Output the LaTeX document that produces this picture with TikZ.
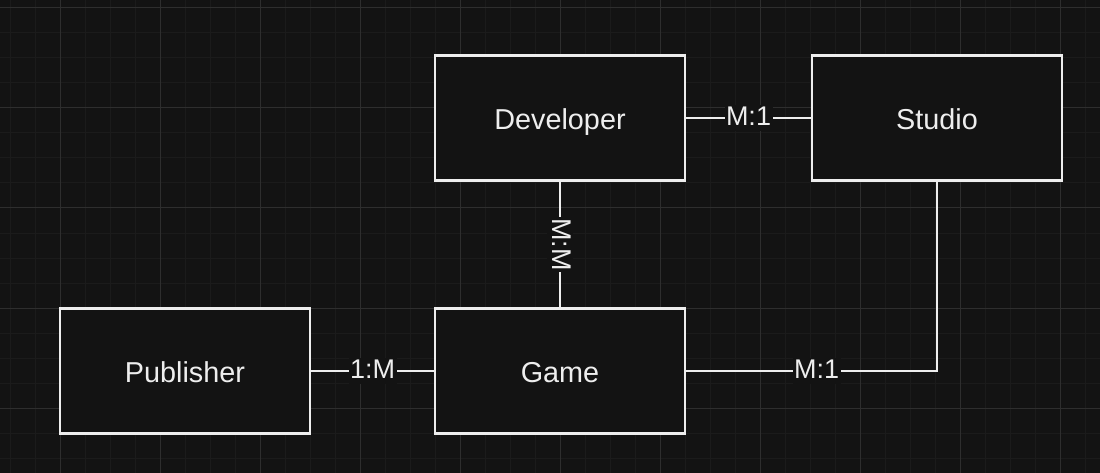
\documentclass[tikz,border=0pt]{standalone}
\usepackage{fontspec}
\setmainfont{Liberation Sans}
\usetikzlibrary{positioning}
\definecolor{canvas}{HTML}{131313}
\definecolor{gridminor}{HTML}{1B1B1B}
\definecolor{gridmajor}{HTML}{2E2E2E}
\definecolor{inkwhite}{HTML}{EEEEEE}

\begin{document}
\begin{tikzpicture}[x=1pt, y=-1pt,
    entity/.style={draw=inkwhite, line width=2.2pt, fill=canvas, text=inkwhite,
        minimum width=250pt, minimum height=125pt, text height=24pt, text depth=1.4pt,
        font=\fontsize{28.8}{34}\selectfont},
    rel/.style={fill=canvas, text=inkwhite, inner sep=1.5pt, text height=19.4pt, text depth=4pt,
        font=\fontsize{27}{32}\selectfont},
    link/.style={draw=inkwhite, line width=2.2pt}]
    % Canvas and grid
    \fill[canvas] (0,0) rectangle (1100,473);
    \useasboundingbox (0,0) rectangle (1100,473);
    \foreach \x in {10,35,...,1100} \draw[gridminor, line width=1pt] (\x,0) -- (\x,473);
    \foreach \y in {8,33,...,473} \draw[gridminor, line width=1pt] (0,\y) -- (1100,\y);
    \foreach \x in {60,160,...,1100} \draw[gridmajor, line width=1pt] (\x,0) -- (\x,473);
    \foreach \y in {8,108,...,473} \draw[gridmajor, line width=1pt] (0,\y) -- (1100,\y);
    % Entities
    \node[entity] (developer) at (560,118) {Developer};
    \node[entity] (studio) at (937,118) {Studio};
    \node[entity] (game) at (560,371) {Game};
    \node[entity] (publisher) at (185,371) {Publisher};
    % Relations
    \draw[link] (developer) -- node[rel] {M:1} (studio);
    \draw[link] (developer) -- node[rel, rotate=-90] {M:M} (game);
    \draw[link] (publisher) -- node[rel] {1:M} (game);
    \draw[link] (game.east) -| node[rel, pos=0.26] {M:1} (studio.south);
\end{tikzpicture}
\end{document}
